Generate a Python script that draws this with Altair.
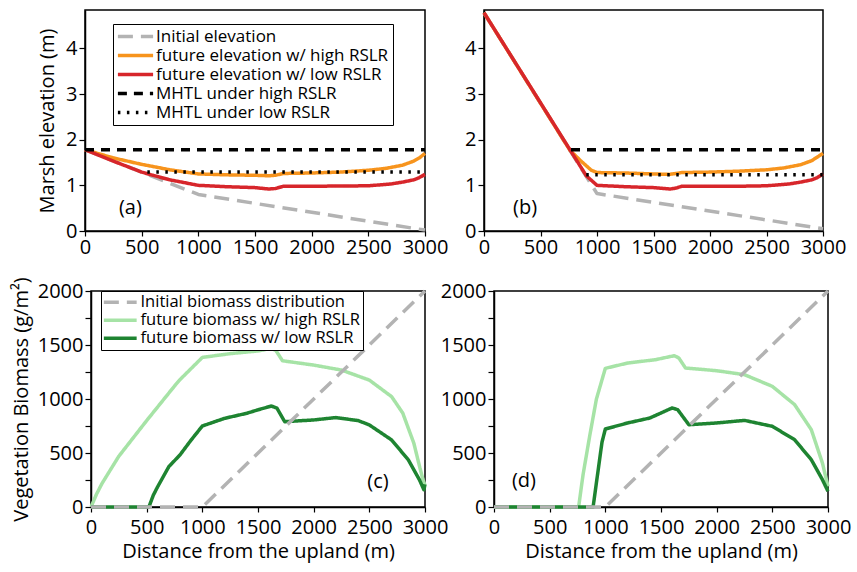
import altair as alt
import pandas as pd

FONT = "Open Sans"

# ---------------- data ----------------
# Panel (a): marsh elevation, gentle upland slope
a_init_x = [0, 1000, 3000]
a_init_y = [1.78, 0.80, 0.02]
a_high_x = [0, 250, 500, 750, 1000, 1250, 1500, 1620, 1680, 1750, 2000, 2250, 2500, 2650, 2800, 2900, 2950, 3000]
a_high_y = [1.78, 1.60, 1.46, 1.34, 1.25, 1.23, 1.22, 1.21, 1.22, 1.26, 1.27, 1.29, 1.33, 1.37, 1.44, 1.53, 1.60, 1.70]
a_low_x = [0, 250, 500, 600, 750, 1000, 1250, 1500, 1620, 1680, 1750, 2000, 2500, 2700, 2800, 2900, 2950, 3000]
a_low_y = [1.78, 1.53, 1.29, 1.22, 1.12, 1.00, 0.97, 0.95, 0.92, 0.93, 0.98, 0.98, 0.99, 1.03, 1.07, 1.12, 1.17, 1.24]
a_mhtl_high_x = [0, 3000]
a_mhtl_high_y = [1.78, 1.78]
a_mhtl_low_x = [550, 3000]
a_mhtl_low_y = [1.29, 1.29]

# Panel (b): marsh elevation, steep upland slope
b_init_x = [0, 1000, 3000]
b_init_y = [4.78, 0.82, 0.05]
b_high_x = [0, 760, 850, 950, 1000, 1250, 1500, 1640, 1700, 1750, 2000, 2250, 2500, 2650, 2800, 2900, 2950, 3000]
b_high_y = [4.78, 1.77, 1.55, 1.33, 1.28, 1.27, 1.25, 1.24, 1.26, 1.28, 1.29, 1.31, 1.34, 1.38, 1.45, 1.54, 1.62, 1.70]
b_low_x = [0, 905, 1000, 1250, 1500, 1650, 1700, 1750, 2000, 2250, 2500, 2700, 2800, 2900, 2950, 3000]
b_low_y = [4.78, 1.21, 1.00, 0.97, 0.95, 0.92, 0.94, 0.98, 0.98, 0.98, 0.99, 1.03, 1.07, 1.12, 1.17, 1.25]
b_mhtl_high_x = [770, 3000]
b_mhtl_high_y = [1.78, 1.78]
b_mhtl_low_x = [905, 3000]
b_mhtl_low_y = [1.23, 1.23]

# Panel (c): biomass, gentle slope
c_init_x = [0, 1000, 3000]
c_init_y = [0, 0, 2000]
c_high_x = [0, 50, 100, 250, 500, 750, 800, 1000, 1250, 1500, 1620, 1660, 1720, 2000, 2250, 2500, 2700, 2800, 2900, 2950, 2980, 3000]
c_high_y = [0, 120, 220, 470, 800, 1120, 1180, 1385, 1420, 1445, 1468, 1450, 1354, 1314, 1268, 1175, 1022, 870, 590, 380, 260, 200]
c_low_x = [0, 520, 560, 600, 700, 800, 900, 1000, 1200, 1400, 1500, 1620, 1670, 1740, 2000, 2200, 2400, 2500, 2700, 2850, 2950, 2990, 3000]
c_low_y = [0, 0, 110, 190, 375, 483, 621, 750, 821, 868, 900, 935, 915, 790, 806, 828, 800, 760, 621, 437, 252, 160, 210]

# Panel (d): biomass, steep slope
d_init_x = [0, 1000, 3000]
d_init_y = [0, 0, 2000]
d_high_x = [0, 760, 800, 860, 920, 1000, 1200, 1450, 1620, 1660, 1720, 2000, 2250, 2500, 2700, 2850, 2950, 3000]
d_high_y = [0, 0, 300, 660, 1000, 1284, 1333, 1364, 1401, 1380, 1287, 1262, 1225, 1117, 948, 716, 407, 190]
d_low_x = [0, 890, 930, 970, 1000, 1200, 1400, 1600, 1650, 1750, 2000, 2250, 2500, 2700, 2850, 2950, 3000]
d_low_y = [0, 0, 300, 600, 722, 778, 824, 917, 901, 762, 778, 802, 747, 623, 438, 253, 145]

# Series names / styles
ELEV_SERIES = ["Initial elevation", "future elevation w/ high RSLR", "future elevation w/ low RSLR",
               "MHTL under high RSLR", "MHTL under low RSLR"]
ELEV_COLORS = ["#b3b3b3", "#f7941d", "#d7262b", "#000000", "#000000"]
ELEV_DASH = [[15, 8], [1, 0], [1, 0], [9, 7], [2.5, 6.5]]
ELEV_WIDTH = [3.5, 3.5, 3.5, 2, 2]

BIO_SERIES = ["Initial biomass distribution", "future biomass w/ high RSLR", "future biomass w/ low RSLR"]
BIO_COLORS = ["#b3b3b3", "#a6e3a6", "#1e8431"]
BIO_DASH = [[15, 8], [1, 0], [1, 0]]
BIO_WIDTH = [3.5, 3.5, 3.5]

PANEL_LABELS = ["(a)", "(b)", "(c)", "(d)"]
LABEL_X = [400, 363, 2578, 269]
LABEL_Y = [0.5, 0.5, 231, 243]

X_TICKS = [0, 500, 1000, 1500, 2000, 2500, 3000]
ELEV_TICKS = [0, 1, 2, 3, 4]
BIO_TICKS = [0, 250, 500, 750, 1000, 1250, 1500, 1750, 2000]

TICK_FS = 20
TITLE_FS = 20


def df_of(xs, ys, name):
    return pd.DataFrame({"x": xs, "y": ys, "series": name})


def make_panel(layers, series, colors, dashes, widths, ydom, yticks, ytitle, xtitle,
               label_idx, legend, width, height, ylabelexpr=None, ytitlepad=8,
               xlabelpad=1):
    xscale = alt.Scale(domain=[0, 3000], nice=False)
    yscale = alt.Scale(domain=ydom, nice=False)
    xaxis_kw = dict(values=X_TICKS, format="d", labelFlush=False, labelOverlap=False,
                    tickSize=5, labelPadding=xlabelpad, titlePadding=4,
                    title=xtitle if xtitle else "")
    yaxis_kw = dict(values=yticks, format="d", labelOverlap=False, tickSize=6,
                    labelPadding=2, titlePadding=ytitlepad,
                    title=ytitle if ytitle else "")
    if ylabelexpr:
        yaxis_kw["labelExpr"] = ylabelexpr
    xaxis = alt.Axis(**xaxis_kw)
    yaxis = alt.Axis(**yaxis_kw)

    def enc(chart):
        cs = alt.Scale(domain=series, range=colors)
        ds = alt.Scale(domain=series, range=dashes)
        ws = alt.Scale(domain=series, range=widths)
        return chart.encode(
            x=alt.X("x:Q", scale=xscale, axis=xaxis),
            y=alt.Y("y:Q", scale=yscale, axis=yaxis),
            color=alt.Color("series:N", scale=cs, legend=legend),
            strokeDash=alt.StrokeDash("series:N", scale=ds, legend=legend),
            strokeWidth=alt.StrokeWidth("series:N", scale=ws, legend=legend),
        )

    charts = []
    for df in layers:
        charts.append(enc(alt.Chart(df).mark_line(strokeCap="butt", strokeJoin="round")))
    lab = pd.DataFrame({"x": [LABEL_X[label_idx]], "y": [LABEL_Y[label_idx]],
                        "t": [PANEL_LABELS[label_idx]]})
    text = alt.Chart(lab).mark_text(font=FONT, fontSize=TICK_FS, color="black",
                                    align="center", baseline="middle").encode(
        x=alt.X("x:Q", scale=xscale, axis=xaxis),
        y=alt.Y("y:Q", scale=yscale, axis=yaxis),
        text="t:N")
    charts.append(text)
    return alt.layer(*charts).properties(width=width, height=height)


def elev_legend():
    return alt.Legend(title=None, orient="none", legendX=28, legendY=14,
                      symbolType="M-4.4,0H4.4", symbolSize=64, symbolOffset=10,
                      labelOffset=12, labelFontSize=17, labelFont=FONT, labelColor="black",
                      strokeColor="black", fillColor="white", padding=4, rowPadding=1,
                      labelLimit=400, cornerRadius=0)


def bio_legend():
    return alt.Legend(title=None, orient="none", legendX=10, legendY=0,
                      symbolType="M-4.1,0H4.1", symbolSize=64, symbolOffset=8,
                      labelOffset=12, labelFontSize=16.5, labelFont=FONT, labelColor="black",
                      strokeColor="black", fillColor="white", padding=3, rowPadding=1,
                      labelLimit=400, cornerRadius=0)


pa = make_panel(
    [df_of(a_init_x, a_init_y, ELEV_SERIES[0]),
     df_of(a_high_x, a_high_y, ELEV_SERIES[1]),
     df_of(a_low_x, a_low_y, ELEV_SERIES[2]),
     df_of(a_mhtl_high_x, a_mhtl_high_y, ELEV_SERIES[3]),
     df_of(a_mhtl_low_x, a_mhtl_low_y, ELEV_SERIES[4])],
    ELEV_SERIES, ELEV_COLORS, ELEV_DASH, ELEV_WIDTH, [0, 4.84], ELEV_TICKS,
    "Marsh elevation (m)", None, 0, elev_legend(), 340, 221, ytitlepad=8, xlabelpad=1)

pb = make_panel(
    [df_of(b_init_x, b_init_y, ELEV_SERIES[0]),
     df_of(b_high_x, b_high_y, ELEV_SERIES[1]),
     df_of(b_low_x, b_low_y, ELEV_SERIES[2]),
     df_of(b_mhtl_high_x, b_mhtl_high_y, ELEV_SERIES[3]),
     df_of(b_mhtl_low_x, b_mhtl_low_y, ELEV_SERIES[4])],
    ELEV_SERIES, ELEV_COLORS, ELEV_DASH, ELEV_WIDTH, [0, 4.84], ELEV_TICKS,
    None, None, 1, None, 339, 221, xlabelpad=1)

LBL = "datum.value % 500 === 0 ? datum.label : ''"
pc = make_panel(
    [df_of(c_high_x, c_high_y, BIO_SERIES[1]),
     df_of(c_low_x, c_low_y, BIO_SERIES[2]),
     df_of(c_init_x, c_init_y, BIO_SERIES[0])],
    BIO_SERIES, BIO_COLORS, BIO_DASH, BIO_WIDTH, [0, 2000], BIO_TICKS,
    "Vegetation Biomass (g/m²)", "Distance from the upland (m)", 2, bio_legend(), 334, 216,
    ylabelexpr=LBL, ytitlepad=6, xlabelpad=5)

pdd = make_panel(
    [df_of(d_high_x, d_high_y, BIO_SERIES[1]),
     df_of(d_low_x, d_low_y, BIO_SERIES[2]),
     df_of(d_init_x, d_init_y, BIO_SERIES[0])],
    BIO_SERIES, BIO_COLORS, BIO_DASH, BIO_WIDTH, [0, 2000], BIO_TICKS,
    None, "Distance from the upland (m)", 3, None, 334, 216,
    ylabelexpr=LBL, xlabelpad=5)


def spacer(w):
    return alt.Chart(pd.DataFrame({"x": [0]})).mark_point(opacity=0).encode(
        x=alt.X("x:Q", axis=None), y=alt.Y("x:Q", axis=None)
    ).properties(width=w, height=1, view=alt.ViewBackground(strokeOpacity=0))


RES = dict(color="independent", strokeDash="independent", strokeWidth="independent")

row1 = alt.hconcat(pa, spacer(59), pb, spacing=0, bounds="flush").resolve_scale(**RES)
row2 = alt.hconcat(spacer(6), pc, spacer(69), pdd, spacing=0, bounds="flush").resolve_scale(**RES)

chart = alt.vconcat(row1, row2, spacing=17).resolve_scale(**RES).properties(
    padding={"left": 10, "top": 7, "right": 5, "bottom": 5}
).configure_view(stroke="black", strokeWidth=1.5).configure_axis(
    labelFont=FONT, labelFontSize=TICK_FS, labelColor="black",
    titleFont=FONT, titleFontSize=TITLE_FS, titleFontWeight="normal", titleColor="black",
    tickColor="black", tickWidth=1.2, domainColor="black", domainWidth=1.5, grid=False
)

chart.save("out.html", embed_options={"renderer": "svg", "actions": False})
